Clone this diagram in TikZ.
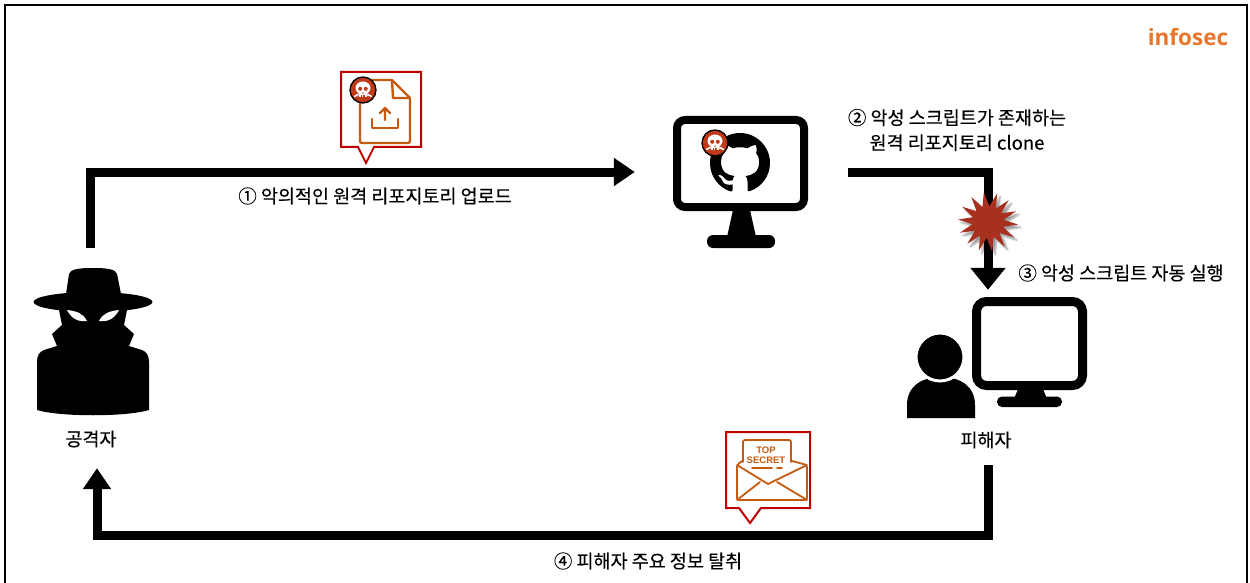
\documentclass[tikz,border=0pt]{standalone}
\usepackage{fontspec}
\usetikzlibrary{arrows.meta,shapes.geometric,shadows.blur}
\newfontfamily\kr[FakeBold=0.35]{Noto Sans CJK KR}
\newfontfamily\brandfont{Open Sans}
\newfontfamily\tagfont{Liberation Sans}
\definecolor{calloutred}{HTML}{C00000}
\definecolor{iconorange}{HTML}{C55A11}
\definecolor{badgered}{HTML}{C0391B}
\definecolor{burst}{HTML}{A8301E}
\definecolor{brand}{HTML}{E8772E}
\tikzset{
  hold/.style={inner sep=0, draw=none},
  lbl/.style={font=\kr\fontsize{18.5}{25}\selectfont, inner sep=0, align=center},
  flow/.style={line width=9, -{Triangle[length=21pt,width=27pt]}},
  callout/.style={draw=calloutred, fill=white, line width=2},
  ico/.style={draw=iconorange, line width=2.4, line join=round, line cap=round},
  skullbadge/.pic={
    \fill[badgered] (0,0) circle (13);
    \draw[black, line width=1.3] (0,0) circle (13);
    \fill[white] (0,-2) ellipse (7.5 and 6.5);
    \fill[white, rounded corners=1.2] (-4.5,1) rectangle (4.5,7);
    \draw[white, line width=1.6, line cap=round] (-8.5,6.5) -- (-5,4.5) (8.5,6.5) -- (5,4.5);
    \fill[badgered] (-2.8,-1.2) circle (2);
    \fill[badgered] (2.8,-1.2) circle (2);
    \fill[badgered] (0,2.2) -- (-0.9,3.6) -- (0.9,3.6) -- cycle;
    \draw[badgered, line width=0.6] (-1.5,5) -- (-1.5,7) (0,5) -- (0,7) (1.5,5) -- (1.5,7);
  }
}
\begin{document}
\begin{tikzpicture}[x=1pt, y=-1pt]
\useasboundingbox (0,0) rectangle (1250,583);

% frame
\draw[line width=2] (5,583) -- (5,5) -- (1247,5) -- (1247,583);

% brand
\node[font=\brandfont\bfseries\fontsize{22.5}{26}\selectfont, text=brand, inner sep=0] (brand) at (1188,37) {infosec};

% anchor boxes of the three actors
\node[hold, minimum width=124, minimum height=220] (attacker) at (90,358) {};
\node[hold, minimum width=213, minimum height=132] (repo) at (741.5,172) {};
\node[hold, minimum width=190, minimum height=175] (victim) at (988,377.5) {};

% ---- attacker silhouette
\fill (66,294) -- (69,274) .. controls (70,269) and (80,268) .. (93,268)
      .. controls (106,268) and (116,269) .. (117,274) -- (121,294) -- cycle;
\fill (93,302) ellipse (59.5 and 10);
\fill (58,305) -- (62,325) -- (52,334) -- (57,346) -- (44,350)
      .. controls (39,352) and (37,356) .. (37,362) -- (37,410)
      .. controls (60,417) and (126,417) .. (149,410) -- (149,362)
      .. controls (149,356) and (147,352) .. (142,350) -- (129,346) -- (134,334)
      -- (124,325) -- (128,305) -- cycle;
\fill[white] (67,310) .. controls (76,311) and (83,313) .. (87,321)
      .. controls (80,322) and (72,320) .. (67,310) -- cycle;
\fill[white] (119,310) .. controls (110,311) and (103,313) .. (99,321)
      .. controls (106,322) and (114,320) .. (119,310) -- cycle;
\node[lbl] (attackerlbl) at (91,439) {공격자};

% ---- repository monitor
\draw[line width=8, rounded corners=8] (677,120) rectangle (804,207);
\fill (733,210) -- (750,210) -- (756,237) -- (727,237) -- cycle;
\fill[rounded corners=6] (707,235) rectangle (775,248);
\begin{scope}[shift={(710,133)}, scale=3.75]
\fill (8,0) .. controls (3.58,0) and (0,3.58) .. (0,8)
 .. controls (0,11.54) and (2.29,14.53) .. (5.47,15.59)
 .. controls (5.87,15.66) and (6.02,15.42) .. (6.02,15.21)
 .. controls (6.02,15.02) and (6.01,14.39) .. (6.01,13.72)
 .. controls (4.00,14.09) and (3.48,13.23) .. (3.32,12.78)
 .. controls (3.23,12.55) and (2.84,11.84) .. (2.50,11.65)
 .. controls (2.22,11.50) and (1.82,11.13) .. (2.49,11.12)
 .. controls (3.12,11.11) and (3.57,11.70) .. (3.72,11.88)
 .. controls (4.44,13.09) and (5.59,12.75) .. (6.05,12.54)
 .. controls (6.12,12.02) and (6.33,11.67) .. (6.56,11.47)
 .. controls (4.78,11.27) and (2.92,10.58) .. (2.92,7.52)
 .. controls (2.92,6.65) and (3.23,5.93) .. (3.74,5.37)
 .. controls (3.66,5.17) and (3.38,4.35) .. (3.82,3.25)
 .. controls (3.82,3.25) and (4.49,3.04) .. (6.02,4.07)
 .. controls (6.66,3.89) and (7.34,3.80) .. (8.02,3.80)
 .. controls (8.70,3.80) and (9.38,3.89) .. (10.02,4.07)
 .. controls (11.55,3.03) and (12.22,3.25) .. (12.22,3.25)
 .. controls (12.66,4.35) and (12.38,5.17) .. (12.30,5.37)
 .. controls (12.81,5.93) and (13.12,6.64) .. (13.12,7.52)
 .. controls (13.12,10.59) and (11.25,11.27) .. (9.47,11.47)
 .. controls (9.76,11.72) and (10.01,12.20) .. (10.01,12.95)
 .. controls (10.01,14.02) and (10.00,14.88) .. (10.00,15.15)
 .. controls (10.00,15.36) and (10.15,15.61) .. (10.55,15.53)
 .. controls (13.80,14.43) and (16,11.43) .. (16,8)
 .. controls (16,3.58) and (12.42,0) .. (8,0) -- cycle;
\end{scope}
\pic at (715,143) {skullbadge};

% ---- victim: person and monitor
\fill (907,418) -- (907,405) .. controls (907,386) and (922,377) .. (941,377)
      .. controls (960,377) and (975,386) .. (975,405) -- (975,418) -- cycle;
\filldraw[draw=white, line width=3] (940,357) circle (24);
\draw[line width=9, rounded corners=10] (976.5,301.5) rectangle (1082.5,385.5);
\fill (1018,389) -- (1043,389) -- (1047,399) -- (1014,399) -- cycle;
\fill[rounded corners=5] (997,396.5) rectangle (1062,407);
\node[lbl] (victimlbl) at (986,440) {피해자};

% ---- connectors
\draw[flow] (attacker.north) |- (repo.west);
\draw[line width=9, -{Triangle[length=22pt,width=34pt]}] (repo.east) -| (victim.north);
\draw[flow] (victim.south) -- ++(0,70) -| ([xshift=7pt]attacker.south);

% explosion on the clone path
\node[star, star points=14, star point ratio=1.9, minimum size=60, inner sep=0,
      fill=burst, rotate=8,
      blur shadow={shadow xshift=3pt, shadow yshift=-3pt, shadow blur steps=6}] (burst) at (988,222) {};

% ---- upload callout
\draw[callout] (341,72) -- (421,72) -- (421,147) -- (374,147) -- (366,163) -- (358,147) -- (341,147) -- cycle;
\draw[ico, rounded corners=2] (392,80) -- (360,80) -- (360,143) -- (410,143) -- (410,98);
\draw[ico] (392,80) -- (410,98);
\draw[ico] (392,80) -- (393,98) -- (410,98);
\draw[ico] (372,119) -- (372,128) -- (398,128) -- (398,119);
\draw[ico] (385,120) -- (385,108) (380,113) -- (385,108) -- (390,113);
\pic at (363,90) {skullbadge};

% ---- exfiltration callout
\draw[callout] (726,432) -- (810,432) -- (810,508) -- (761,508) -- (750,523) -- (739,508) -- (726,508) -- cycle;
\draw[ico, line width=1.8, rounded corners=2] (743,462) -- (743,440) -- (791,440) -- (791,462);
\draw[ico, line width=1.8, rounded corners=2] (742,461) -- (737,465) -- (737,500) -- (807,500) -- (807,465) -- (792,461);
\draw[ico, line width=1.8] (737,465) -- (768,484) -- (807,465);
\draw[ico, line width=1.8] (737,500) -- (760,482) (807,500) -- (777,482);
\draw[ico, line width=1.8] (752,468) -- (772,468) (777,468) -- (782,468);
\node[font=\tagfont\bfseries\fontsize{9.5}{10}\selectfont, text=iconorange, inner sep=0, align=center] (tag) at (766,455) {TOP\\SECRET};

% ---- step labels
\node[lbl] (s1) at (375,196) {① 악의적인 원격 리포지토리 업로드};
\node[lbl] (s2) at (957,130) {② 악성 스크립트가 존재하는\\원격 리포지토리 clone};
\node[lbl] (s3) at (1121,273) {③ 악성 스크립트 자동 실행};
\node[lbl] (s4) at (648,561) {④ 피해자 주요 정보 탈취};
\end{tikzpicture}
\end{document}
